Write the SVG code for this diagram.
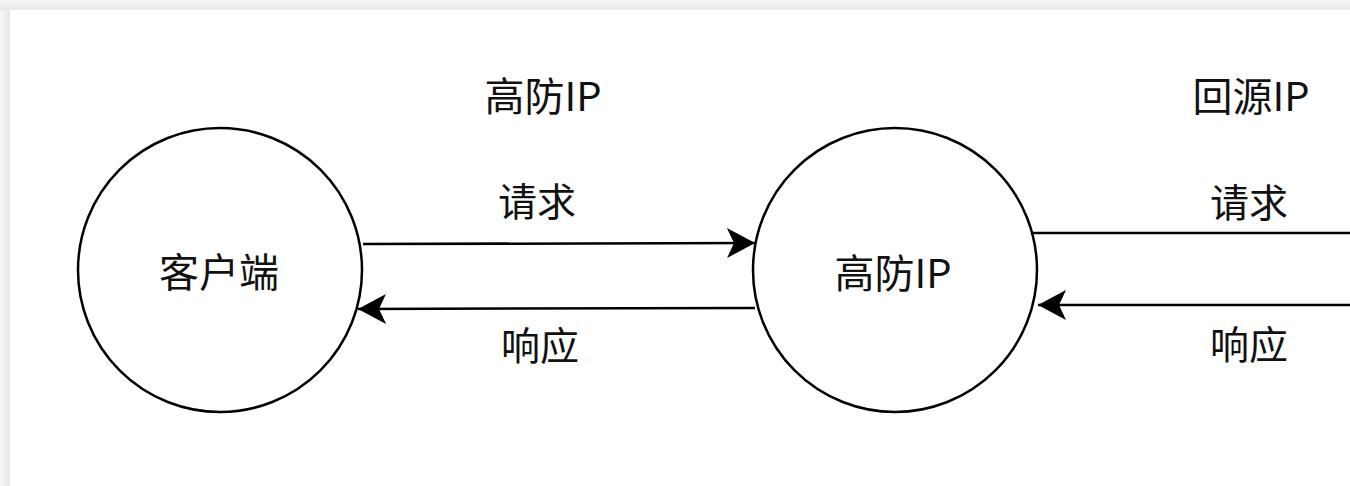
<svg xmlns="http://www.w3.org/2000/svg" width="1350" height="486" viewBox="0 0 1350 486">
<style>
.node{fill:#fff;stroke:#000;stroke-width:2.5}
.edge{fill:none;stroke:#000;stroke-width:2.5}
text{font-family:"Noto Sans CJK SC","Noto Sans",sans-serif;fill:#111;text-anchor:middle;dominant-baseline:central;font-weight:400}
.big{font-size:40px}
.mid{font-size:39px}
</style>
<defs>
<marker id="arr" markerUnits="userSpaceOnUse" markerWidth="32" markerHeight="34" refX="28" refY="16" orient="auto">
<path d="M0,1 L28,16 L0,31 L7,16 Z" fill="#000"/>
</marker>
<linearGradient id="gl" x1="0" y1="0" x2="1" y2="0"><stop offset="0" stop-color="#f7f7f7"/><stop offset="1" stop-color="#e6e6e6"/></linearGradient>
<linearGradient id="gt" x1="0" y1="0" x2="0" y2="1"><stop offset="0" stop-color="#f7f7f7"/><stop offset="1" stop-color="#e8e8e8"/></linearGradient>
</defs>
<rect x="0" y="0" width="1350" height="486" fill="#f6f6f6"/>
<rect x="0" y="0" width="10" height="486" fill="url(#gl)"/>
<rect x="0" y="0" width="1350" height="10" fill="url(#gt)"/>
<rect x="10" y="10" width="1340" height="476" fill="#fff"/>
<g id="connectors">
<path class="edge" d="M363,244 L755,243" marker-end="url(#arr)"/>
<path class="edge" d="M755,308 L358,309" marker-end="url(#arr)"/>
<path class="edge" d="M1032,233 L1350,233"/>
<path class="edge" d="M1350,305 L1038,305" marker-end="url(#arr)"/>
</g>
<g id="client">
<circle class="node" cx="220" cy="270" r="142"/>
<text class="big" x="219" y="270">客户端</text>
</g>
<g id="gaofang">
<circle class="node" cx="895" cy="270" r="142"/>
<text class="big" x="893" y="271">高防IP</text>
</g>
<g id="labels">
<text class="big" x="543" y="94">高防IP</text>
<text class="mid" x="537" y="199">请求</text>
<text class="mid" x="540" y="343">响应</text>
<text class="big" x="1251" y="94">回源IP</text>
<text class="mid" x="1249" y="200">请求</text>
<text class="mid" x="1249" y="342">响应</text>
</g>
</svg>
